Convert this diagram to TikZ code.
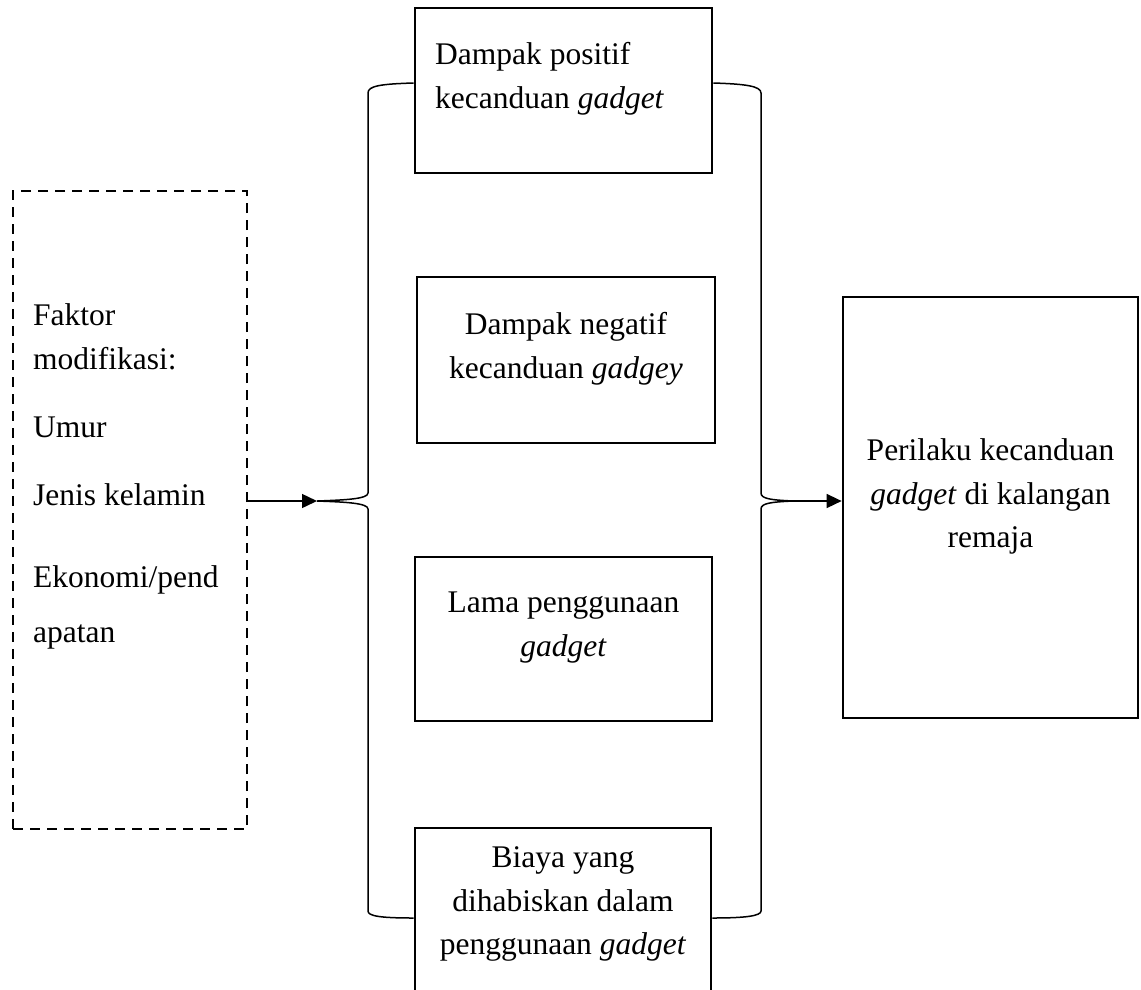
\documentclass[tikz,border=0pt]{standalone}
\usepackage{fontspec}
\setmainfont{Liberation Serif}
\usetikzlibrary{arrows.meta,calc}
\begin{document}
\begin{tikzpicture}[x=1pt,y=-1pt,
  box/.style={draw, line width=2.7pt, inner sep=0pt},
  dbox/.style={draw, line width=2.7pt, dash pattern=on 10pt off 7pt, inner sep=0pt},
  txt/.style={font=\fontsize{31.5}{43.5}\selectfont, inner sep=0pt},
  brace/.style={line width=1.5pt},
  arr/.style={line width=1.5pt, -{Triangle[length=15pt,width=14pt]}}]
\useasboundingbox (0,0) rectangle (1141,989);
\clip (0,0) rectangle (1141,989);

% boxes
\node[dbox, minimum width=234pt, minimum height=638pt] (fak) at (130,510) {};
\node[box, minimum width=297pt, minimum height=165pt] (b1) at (563.5,90.5) {};
\node[box, minimum width=298pt, minimum height=166pt] (b2) at (566,360) {};
\node[box, minimum width=297pt, minimum height=164pt] (b3) at (563.5,639) {};
\node[box, minimum width=296pt, minimum height=172pt] (b4) at (563,914) {};
\node[box, minimum width=295pt, minimum height=421pt] (per) at (990.5,507.5) {};

% texts
\node[txt, anchor=north west, align=left] (tfak) at (33,303.5)
  {Faktor\\modifikasi:\\[24.5pt]Umur\\[24.5pt]Jenis kelamin\\[38.5pt]Ekonomi/pend\\[11.5pt]apatan};
\node[txt, anchor=north west, align=left] (t1) at (435,42.5)
  {Dampak positif\\kecanduan \textit{gadget}};
\node[txt, anchor=north, align=center] (t2) at (566,312.5)
  {Dampak negatif\\kecanduan \textit{gadgey}};
\node[txt, anchor=north, align=center] (t3) at (563.5,592)
  {Lama penggunaan\\\textit{gadget}};
\node[txt, anchor=north, align=center] (t4) at (563,846.5)
  {Biaya yang\\dihabiskan dalam\\penggunaan \textit{gadget}};
\node[txt, anchor=north, align=center] (tper) at (990.5,438.5)
  {Perilaku kecanduan\\\textit{gadget} di kalangan\\remaja};

% brace tips
\coordinate (lt) at (317,501);
\coordinate (rt) at (793,501);

% left brace
\draw[brace] ($(b1.west)+(0,-7.5)$) .. controls (380,84) and (368,86) .. (368,93)
  -- (368,493) .. controls (368,499) and (345,500) .. (lt)
  .. controls (345,502) and (368,503) .. (368,509)
  -- (368,911) .. controls (368,916) and (380,918) .. ($(b4.west)+(0,4)$);

% right brace
\draw[brace] ($(b1.east)+(0,-7.5)$) .. controls (745,84) and (761,86) .. (761,93)
  -- (761,493) .. controls (761,499) and (772,500) .. (rt)
  .. controls (772,502) and (761,503) .. (761,509)
  -- (761,911) .. controls (761,916) and (745,918) .. ($(b4.east)+(0,4)$);

% arrows
\draw[arr] (fak.east |- lt) -- (lt);
\draw[arr] (rt) -- (per.west |- rt);
\end{tikzpicture}
\end{document}
